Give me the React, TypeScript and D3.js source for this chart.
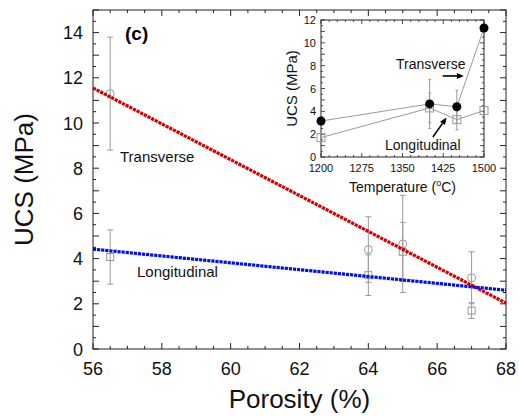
import React from "react";
import * as d3 from "d3";

// ---- data ----
const porosity = [56.5, 64, 65, 67];
const temperature = [1500, 1450, 1400, 1200];
const transverse = [11.3, 4.4, 4.65, 3.15];
const transverseErr = [2.5, 1.45, 2.15, 1.15];
const longitudinal = [4.07, 3.27, 4.3, 1.7];
const longitudinalErr = [1.2, 0.9, 1.3, 0.35];
const fitX = [56, 68];
const transverseFit = [11.55, 2.03];
const longitudinalFit = [4.42, 2.6];
const xTickLabels = [56, 58, 60, 62, 64, 66, 68];
const yTickLabels = [0, 2, 4, 6, 8, 10, 12, 14];
const insetXTickLabels = [1200, 1275, 1350, 1425, 1500];
const insetYTickLabels = [0, 2, 4, 6, 8, 10, 12];
const transverseArrow = [[1424, 7.1], [1463, 7.1]];
const longitudinalArrow = [[1406, 1.75], [1431, 3.45]];

const FONT = "'Liberation Sans', Arial, Helvetica, sans-serif";

export default function App() {
  const x = d3.scaleLinear().domain([56, 68]).range([93, 506]);
  const y = d3.scaleLinear().domain([0, 15]).range([349, 10]);
  const ix = d3.scaleLinear().domain([1200, 1500]).range([321, 484]);
  const iy = d3.scaleLinear().domain([0, 12]).range([157, 20]);

  const [x0, x1] = x.range();
  const [y0, y1] = y.range();
  const [ix0, ix1] = ix.range();
  const [iy0, iy1] = iy.range();

  const line = d3
    .line<[number, number]>()
    .x((d) => x(d[0]))
    .y((d) => y(d[1]));
  const iline = d3
    .line<[number, number]>()
    .x((d) => ix(d[0]))
    .y((d) => iy(d[1]));

  const xMinor = d3.range(56, 68.001, 0.5);
  const yMinor = d3.range(0, 15.001, 0.5);
  const ixMinor = d3.range(1200, 1500.001, 15);
  const iyMinor = d3.range(0, 12.001, 0.5);

  const grey = "#9a9a9a";

  const tPts = porosity.map((p, i) => [p, transverse[i]] as [number, number]);
  const lPts = porosity.map((p, i) => [p, longitudinal[i]] as [number, number]);

  const itOrder = d3.range(temperature.length).sort((a, b) => temperature[a] - temperature[b]);
  const itPts = itOrder.map((i) => [temperature[i], transverse[i]] as [number, number]);
  const ilPts = itOrder.map((i) => [temperature[i], longitudinal[i]] as [number, number]);

  const errBar = (cx: number, lo: number, hi: number, cap: number, key: string) => (
    <g key={key} stroke={grey} strokeWidth={1}>
      <line x1={cx} x2={cx} y1={lo} y2={hi} />
      <line x1={cx - cap} x2={cx + cap} y1={lo} y2={lo} />
      <line x1={cx - cap} x2={cx + cap} y1={hi} y2={hi} />
    </g>
  );

  const arrow = (pts: number[][], key: string) => {
    const ax = ix(pts[0][0]);
    const ay = iy(pts[0][1]);
    const bx = ix(pts[1][0]);
    const by = iy(pts[1][1]);
    const ang = Math.atan2(by - ay, bx - ax);
    const L = 7;
    const W = 3;
    const baseX = bx - L * Math.cos(ang);
    const baseY = by - L * Math.sin(ang);
    const p1 = [baseX + W * Math.sin(ang), baseY - W * Math.cos(ang)];
    const p2 = [baseX - W * Math.sin(ang), baseY + W * Math.cos(ang)];
    return (
      <g key={key}>
        <line x1={ax} y1={ay} x2={baseX} y2={baseY} stroke="#000" strokeWidth={1.6} />
        <polygon points={`${bx},${by} ${p1[0]},${p1[1]} ${p2[0]},${p2[1]}`} fill="#000" />
      </g>
    );
  };

  return (
    <svg
      width={519}
      height={417}
      style={{ position: "absolute", left: 0, top: 0, display: "block", background: "#fff" }}
      fontFamily={FONT}
    >
      <rect x={0} y={0} width={519} height={417} fill="#fff" />

      {/* main ticks */}
      <g stroke="#222" strokeWidth={1}>
        {xMinor.map((v) => {
          const len = xTickLabels.includes(v) ? 6 : 3;
          return (
            <g key={"xt" + v}>
              <line x1={x(v)} x2={x(v)} y1={y0} y2={y0 - len} />
              <line x1={x(v)} x2={x(v)} y1={y1} y2={y1 + len} />
            </g>
          );
        })}
        {yMinor.map((v) => {
          const len = Number.isInteger(v) ? 6 : 3;
          return (
            <g key={"yt" + v}>
              <line x1={x0} x2={x0 + len} y1={y(v)} y2={y(v)} />
              <line x1={x1} x2={x1 - len} y1={y(v)} y2={y(v)} />
            </g>
          );
        })}
      </g>
      <rect x={x0} y={y1} width={x1 - x0} height={y0 - y1} fill="none" stroke="#222" strokeWidth={1} />

      {/* main tick labels */}
      <g fontSize={18} fill="#111">
        {xTickLabels.map((v) => (
          <text key={"xl" + v} x={x(v)} y={375} textAnchor="middle">
            {v}
          </text>
        ))}
        {yTickLabels.map((v) => (
          <text key={"yl" + v} x={83} y={y(v) + 6.5} textAnchor="end">
            {v}
          </text>
        ))}
      </g>

      <text x={(x0 + x1) / 2} y={408} fontSize={26} textAnchor="middle" fill="#111">
        Porosity (%)
      </text>
      <text
        transform={`translate(33,${(y0 + y1) / 2}) rotate(-90)`}
        fontSize={26}
        textAnchor="middle"
        fill="#111"
      >
        UCS (MPa)
      </text>

      <text x={125} y={40} fontSize={19} fontWeight="bold" fill="#000">
        (c)
      </text>

      {/* error bars + markers (main) */}
      {porosity.map((p, i) =>
        errBar(x(p), y(transverse[i] - transverseErr[i]), y(transverse[i] + transverseErr[i]), 3, "te" + i)
      )}
      {porosity.map((p, i) =>
        errBar(x(p), y(longitudinal[i] - longitudinalErr[i]), y(longitudinal[i] + longitudinalErr[i]), 3, "le" + i)
      )}
      {tPts.map((d, i) => (
        <circle key={"tc" + i} cx={x(d[0])} cy={y(d[1])} r={4} fill="none" stroke={grey} strokeWidth={1} />
      ))}
      {lPts.map((d, i) => (
        <rect
          key={"lr" + i}
          x={x(d[0]) - 3.5}
          y={y(d[1]) - 3.5}
          width={7}
          height={7}
          fill="none"
          stroke={grey}
          strokeWidth={1}
        />
      ))}

      {/* fit lines */}
      <path
        d={line(fitX.map((v, i) => [v, transverseFit[i]]) as [number, number][]) || ""}
        stroke="#d10000"
        strokeWidth={3.2}
        strokeDasharray="3.2 0.9"
        fill="none"
      />
      <path
        d={line(fitX.map((v, i) => [v, longitudinalFit[i]]) as [number, number][]) || ""}
        stroke="#0010e0"
        strokeWidth={3.2}
        strokeDasharray="3.2 0.9"
        fill="none"
      />

      <text x={120} y={162} fontSize={15} fill="#111">
        Transverse
      </text>
      <text x={137} y={277} fontSize={15} fill="#111">
        Longitudinal
      </text>

      {/* ---- inset ---- */}
      <rect x={ix0} y={iy1} width={ix1 - ix0} height={iy0 - iy1} fill="#fff" />
      <g stroke="#222" strokeWidth={0.8}>
        {ixMinor.map((v) => {
          const len = insetXTickLabels.includes(v) ? 4 : 2;
          return (
            <g key={"ixt" + v}>
              <line x1={ix(v)} x2={ix(v)} y1={iy0} y2={iy0 - len} />
              <line x1={ix(v)} x2={ix(v)} y1={iy1} y2={iy1 + len} />
            </g>
          );
        })}
        {iyMinor.map((v) => {
          const len = Number.isInteger(v) ? 4 : 2;
          return (
            <g key={"iyt" + v}>
              <line x1={ix0} x2={ix0 + len} y1={iy(v)} y2={iy(v)} />
              <line x1={ix1} x2={ix1 - len} y1={iy(v)} y2={iy(v)} />
            </g>
          );
        })}
      </g>
      <rect x={ix0} y={iy1} width={ix1 - ix0} height={iy0 - iy1} fill="none" stroke="#222" strokeWidth={1} />

      <g fontSize={11} fill="#111">
        {insetXTickLabels.map((v) => (
          <text key={"ixl" + v} x={ix(v)} y={172} textAnchor="middle">
            {v}
          </text>
        ))}
        {insetYTickLabels.map((v) => (
          <text key={"iyl" + v} x={316} y={iy(v) + 4} textAnchor="end">
            {v}
          </text>
        ))}
      </g>
      <text x={(ix0 + ix1) / 2} y={192} fontSize={14} textAnchor="middle" fill="#111">
        Temperature (
        <tspan fontSize={9} dy={-6}>
          o
        </tspan>
        <tspan dy={6}>C)</tspan>
      </text>
      <text
        transform={`translate(297,${(iy0 + iy1) / 2}) rotate(-90)`}
        fontSize={15}
        textAnchor="middle"
        fill="#111"
      >
        UCS (MPa)
      </text>

      {/* inset error bars */}
      {temperature.map((t, i) =>
        errBar(ix(t), iy(transverse[i] - transverseErr[i]), iy(transverse[i] + transverseErr[i]), 1.5, "ite" + i)
      ).filter((_, i) => temperature[i] !== 1200 && temperature[i] !== 1500)}
      {temperature.map((t, i) =>
        errBar(ix(t), iy(longitudinal[i] - longitudinalErr[i]), iy(longitudinal[i] + longitudinalErr[i]), 1.5, "ile" + i)
      ).filter((_, i) => temperature[i] !== 1200 && temperature[i] !== 1500)}

      <path d={iline(itPts) || ""} stroke={grey} strokeWidth={1} fill="none" />
      <path d={iline(ilPts) || ""} stroke={grey} strokeWidth={1} fill="none" />
      {ilPts.map((d, i) => (
        <rect
          key={"ilr" + i}
          x={ix(d[0]) - 4}
          y={iy(d[1]) - 4}
          width={8}
          height={8}
          fill="#fff"
          fillOpacity={0}
          stroke={grey}
          strokeWidth={1}
        />
      ))}
      {itPts.map((d, i) => (
        <circle key={"itc" + i} cx={ix(d[0])} cy={iy(d[1])} r={4.5} fill="#000" />
      ))}

      <text x={396} y={69} fontSize={14} fill="#111">
        Transverse
      </text>
      <text x={385} y={150} fontSize={14} fill="#111">
        Longitudinal
      </text>
      {arrow(transverseArrow, "ta")}
      {arrow(longitudinalArrow, "la")}
    </svg>
  );
}
